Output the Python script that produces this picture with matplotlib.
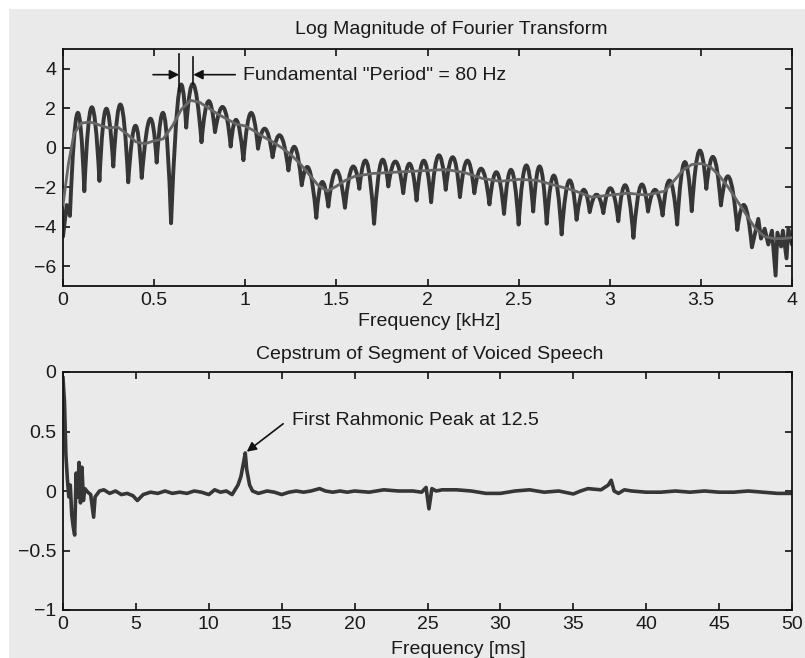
import matplotlib
matplotlib.use('Agg')
import matplotlib.pyplot as plt
from matplotlib.path import Path
from matplotlib.patches import PathPatch, Rectangle

plt.rcParams['font.family'] = ['Liberation Sans', 'DejaVu Sans']

# ---- log magnitude spectrum (kHz), harmonic comb read as dips and lobe tops
dip_khz = [0.038, 0.117, 0.200, 0.276, 0.358, 0.432, 0.514, 0.593, 0.676, 0.760,
           0.834, 0.920, 0.990, 1.070, 1.150, 1.237, 1.310, 1.390, 1.456, 1.547,
           1.626, 1.707, 1.785, 1.867, 1.940, 2.020, 2.100, 2.178, 2.257, 2.340,
           2.420, 2.500, 2.580, 2.654, 2.736, 2.818, 2.890, 2.965, 3.047, 3.130,
           3.210, 3.290, 3.370, 3.450, 3.530, 3.610, 3.700, 3.780]
dip_val = [-3.45, -2.2, -1.68, -0.95, -1.75, -1.53, -0.75, -3.82, 1.02, 0.28,
           0.79, 0.06, -0.63, -0.05, -0.48, -1.15, -1.9, -3.55, -2.98, -3.04,
           -2.08, -3.85, -1.96, -2.3, -2.67, -2.76, -2.13, -2.5, -2.3, -2.87,
           -3.35, -3.89, -3.23, -3.85, -4.39, -3.65, -3.26, -3.31, -3.72, -4.56,
           -3.23, -3.43, -3.89, -3.21, -2.08, -2.92, -4.16, -5.04]
peak_khz = [0.079, 0.157, 0.236, 0.317, 0.397, 0.477, 0.556, 0.637, 0.715, 0.797,
            0.880, 0.953, 1.030, 1.110, 1.193, 1.273, 1.350, 1.420, 1.500, 1.587,
            1.667, 1.746, 1.826, 1.903, 1.980, 2.060, 2.140, 2.218, 2.298, 2.380,
            2.460, 2.540, 2.617, 2.695, 2.777, 2.855, 2.928, 3.006, 3.088, 3.170,
            3.250, 3.330, 3.410, 3.490, 3.570, 3.655, 3.740]
peak_val = [1.75, 2.05, 1.97, 2.18, 1.12, 1.46, 1.62, 2.86, 3.22, 2.36,
            2.05, 1.40, 1.76, 0.96, 0.62, 0.03, -1.07, -1.74, -1.15, -0.98,
            -0.73, -0.70, -0.70, -0.81, -0.65, -0.39, -0.48, -0.65, -1.07, -1.24,
            -1.12, -0.90, -0.95, -1.41, -1.66, -2.13, -2.37, -2.05, -1.91, -1.91,
            -2.13, -1.66, -0.73, -0.17, -0.48, -1.49, -2.92]
head_khz = [0.0, 0.02]
head_val = [-4.5, -2.9]
tail_khz = [3.815, 3.83, 3.85, 3.87, 3.89, 3.91, 3.92, 3.94, 3.95, 3.97, 3.98, 4.0]
tail_val = [-3.6, -4.6, -4.1, -4.9, -4.2, -6.47, -4.3, -5.0, -4.2, -5.6, -4.1, -4.9]

# smooth envelope
env_khz = [0.0, 0.03, 0.06, 0.10, 0.15, 0.20, 0.25, 0.30, 0.35, 0.40, 0.45, 0.50,
           0.55, 0.60, 0.65, 0.70, 0.75, 0.80, 0.85, 0.90, 0.95, 1.00, 1.05, 1.10,
           1.15, 1.20, 1.25, 1.30, 1.35, 1.40, 1.45, 1.50, 1.55, 1.60, 1.70, 1.80,
           1.90, 2.00, 2.10, 2.20, 2.30, 2.40, 2.50, 2.60, 2.70, 2.80, 2.90, 3.00,
           3.10, 3.20, 3.30, 3.35, 3.40, 3.45, 3.50, 3.55, 3.60, 3.65, 3.70, 3.75,
           3.80, 3.85, 3.90, 3.95, 4.0]
env_val = [-2.9, -0.8, 0.7, 1.25, 1.3, 1.15, 1.0, 1.05, 0.7, 0.3, 0.2, 0.35,
           0.45, 1.1, 1.95, 2.4, 2.3, 2.0, 1.7, 1.45, 1.2, 1.1, 0.85, 0.55,
           0.3, 0.0, -0.35, -0.8, -1.35, -1.9, -2.2, -1.95, -1.65, -1.45, -1.3, -1.25,
           -1.2, -1.15, -1.1, -1.25, -1.55, -1.7, -1.6, -1.65, -1.9, -2.15, -2.5, -2.4,
           -2.3, -2.4, -2.2, -1.7, -1.15, -0.85, -0.8, -0.95, -1.4, -2.0, -2.7, -3.4,
           -4.1, -4.5, -4.6, -4.6, -4.55]

# ---- cepstrum (ms)
cep_ms = [0.0, 0.1, 0.2, 0.3, 0.4, 0.5, 0.6, 0.7, 0.8, 0.9, 1.0, 1.1, 1.2, 1.3, 1.4, 1.5,
          1.7, 1.9, 2.1, 2.2,
          2.5, 2.8, 3.2, 3.6, 4.0, 4.4, 4.8, 5.1, 5.5,
          6.0, 6.5, 7.0, 7.5, 8.0, 8.5, 9.0, 9.5, 10.0,
          10.4, 10.8, 11.2, 11.6,
          12.0, 12.2, 12.4, 12.5, 12.6, 12.8, 13.0, 13.4,
          14.0, 14.5, 15.0, 15.5, 16.0, 16.5, 17.0,
          17.6, 18.0, 18.5, 19.0, 19.5, 20.0,
          21.0, 22.0, 23.0, 24.0,
          24.6, 24.9, 25.1, 25.3, 25.6, 26.0,
          27.0, 28.0, 29.0, 30.0, 31.0, 32.0, 33.0, 34.0, 35.0,
          35.5, 36.0, 36.9, 37.4, 37.6, 37.8, 38.1, 38.5, 39.0,
          40.0, 41.0, 42.0, 43.0, 44.0, 45.0, 46.0, 47.0, 48.0, 49.0, 50.0]
cep_val = [0.95, 0.75, 0.3, 0.1, -0.05, 0.05, -0.2, -0.3, -0.37, 0.15, -0.05, 0.24, -0.1, 0.2, -0.08, 0.02,
           -0.01, -0.03, -0.22, -0.05,
           0.0, 0.01, -0.02, 0.0, -0.03, -0.02, -0.04, -0.08, -0.03,
           -0.01, -0.02, 0.0, -0.02, -0.01, -0.02, 0.0, -0.01, -0.03,
           0.01, -0.01, 0.0, -0.03,
           0.05, 0.12, 0.25, 0.32, 0.18, 0.05, 0.0, -0.02,
           0.0, -0.01, -0.03, -0.01, 0.0, -0.01, 0.0,
           0.02, 0.0, -0.01, 0.0, -0.01, 0.0,
           -0.01, 0.01, 0.0, 0.0,
           -0.01, 0.03, -0.15, 0.02, 0.0, 0.01,
           0.01, 0.0, -0.02, -0.02, 0.0, 0.01, -0.01, 0.0, -0.025,
           0.0, 0.02, 0.01, 0.05, 0.09, 0.0, -0.02, 0.01, 0.0,
           -0.01, -0.01, 0.0, -0.01, 0.0, -0.01, -0.01, 0.0, -0.01, -0.02, -0.02]

BG = '#eaeaea'
INK = '#1a1a1a'
FS = 14

fig = plt.figure(figsize=(8.05, 6.58), dpi=100, facecolor='white')
# gray sheet, white border strip at top and left as in the scan
fig.patches.append(Rectangle((9 / 805, 0), 1, 1 - 9 / 658, transform=fig.transFigure,
                             facecolor=BG, edgecolor='none', zorder=-10))

ax1 = fig.add_axes([63 / 805, 1 - 286 / 658, 729 / 805, 237 / 658])
ax2 = fig.add_axes([63 / 805, 1 - 610 / 658, 729 / 805, 238 / 658])


def style(ax):
    ax.set_facecolor(BG)
    for s in ax.spines.values():
        s.set_linewidth(1.3)
        s.set_color('#111111')
    ax.tick_params(direction='in', length=5, width=1.2, top=True, right=True,
                   labelsize=FS, color='#111111', labelcolor=INK)
    ax.tick_params(axis='x', pad=4)
    ax.tick_params(axis='y', pad=5)


# comb: each lobe is a quadratic arc dip -> top -> dip
verts = [(head_khz[0], head_val[0])]
codes = [Path.MOVETO]
for x, y in zip(head_khz[1:], head_val[1:]):
    verts.append((x, y))
    codes.append(Path.LINETO)
verts.append((dip_khz[0], dip_val[0]))
codes.append(Path.LINETO)
for i in range(len(peak_khz)):
    x0, y0 = dip_khz[i], dip_val[i]
    x1, y1 = dip_khz[i + 1], dip_val[i + 1]
    cx = 2 * peak_khz[i] - (x0 + x1) / 2
    cy = 2 * peak_val[i] - (y0 + y1) / 2
    verts += [(cx, cy), (x1, y1)]
    codes += [Path.CURVE3, Path.CURVE3]
for x, y in zip(tail_khz, tail_val):
    verts.append((x, y))
    codes.append(Path.LINETO)
ax1.add_patch(PathPatch(Path(verts, codes), fill=False, edgecolor='#363636',
                        lw=2.8, joinstyle='round', capstyle='round', zorder=2))
ax1.plot(env_khz, env_val, color='#666666', lw=2.0, zorder=3)

ax1.set_xlim(0, 4)
ax1.set_ylim(-7, 5)
ax1.set_xticks([0, 0.5, 1, 1.5, 2, 2.5, 3, 3.5, 4])
ax1.set_xticklabels(['0', '0.5', '1', '1.5', '2', '2.5', '3', '3.5', '4'])
ax1.set_yticks([-6, -4, -2, 0, 2, 4])
style(ax1)

# fundamental period marker
i8, i9 = 7, 8
ax1.plot([peak_khz[i8]] * 2, [peak_val[i8], 4.75], color='#111111', lw=1.2, zorder=4)
ax1.plot([peak_khz[i9]] * 2, [peak_val[i9], 4.6], color='#111111', lw=1.2, zorder=4)
arrow = dict(arrowstyle='-|>', color='#111111', lw=1.2, mutation_scale=14,
             shrinkA=0, shrinkB=0)
ax1.annotate('', xy=(peak_khz[i8], 3.7), xytext=(0.494, 3.7), arrowprops=arrow)
ax1.annotate('', xy=(peak_khz[i9], 3.7), xytext=(0.945, 3.7), arrowprops=arrow)
ax1.text(0.99, 3.66, 'Fundamental "Period" = 80 Hz', fontsize=FS, va='center',
         color=INK)

# cepstrum
ax2.plot(cep_ms, cep_val, color='#363636', lw=2.6, solid_joinstyle='round')
ax2.set_xlim(0, 50)
ax2.set_ylim(-1, 1)
ax2.set_xticks(range(0, 51, 5))
ax2.set_yticks([-1, -0.5, 0, 0.5, 1])
ax2.set_yticklabels(['\u22121', '\u22120.5', '0', '0.5', '0'])
style(ax2)
ax2.annotate('', xy=(12.6, 0.33), xytext=(15.1, 0.565),
             arrowprops=dict(arrowstyle='-|>', color='#111111', lw=1.2,
                             mutation_scale=14, shrinkA=0, shrinkB=0))
ax2.text(15.7, 0.59, 'First Rahmonic Peak at 12.5', fontsize=FS, va='center',
         color=INK)

# titles and labels
fig.text(451 / 805, 1 - 30 / 658, 'Log Magnitude of Fourier Transform',
         ha='center', va='center', fontsize=FS, color=INK)
fig.text(429 / 805, 1 - 322 / 658, 'Frequency [kHz]',
         ha='center', va='center', fontsize=FS, color=INK)
fig.text(430 / 805, 1 - 354 / 658, 'Cepstrum of Segment of Voiced Speech',
         ha='center', va='center', fontsize=FS, color=INK)
fig.text(458 / 805, 1 - 650 / 658, 'Frequency [ms]',
         ha='center', va='center', fontsize=FS, color=INK)

fig.savefig('out.png', dpi=100, facecolor=fig.get_facecolor())
